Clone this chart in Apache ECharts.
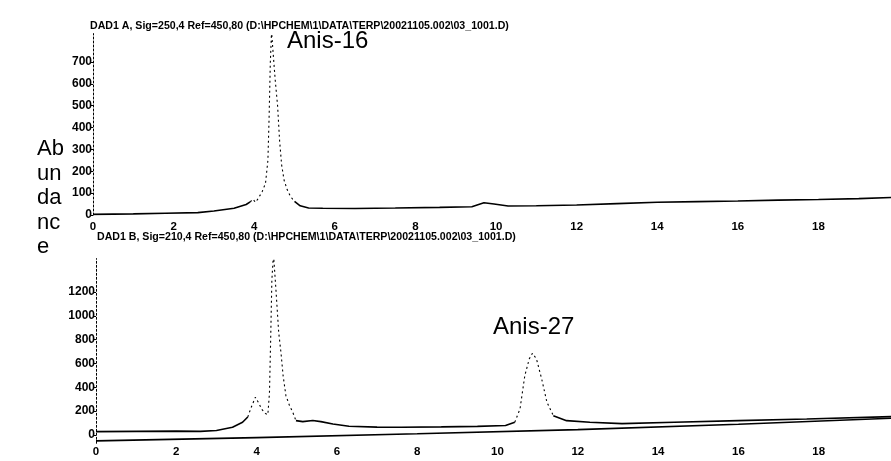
<!DOCTYPE html>
<html>
<head>
<meta charset="utf-8">
<script src="https://cdn.jsdelivr.net/npm/echarts@6/dist/echarts.min.js"></script>
<style>html,body{margin:0;padding:0;background:#fff;}#c{width:891px;height:461px;}</style>
</head>
<body>
<div id="c"></div>
<script>
// ---- Data (retention time in min, abundance) ----
var topTime  = [0, 1, 1.8, 2.6, 3.0, 3.5, 3.8, 3.9, 3.97, 4.03, 4.1, 4.2, 4.28, 4.34, 4.37, 4.40, 4.43, 4.47, 4.52, 4.58, 4.63, 4.68, 4.74, 4.82, 4.9, 5.0, 5.14, 5.35, 5.7, 6.5, 7.5, 8.6, 9.4, 9.7, 9.95, 10.3, 11, 12, 13, 14, 15, 16, 17, 18, 19, 19.8];
var topValue = [3, 5, 8, 11, 18, 31, 48, 60, 72, 58, 75, 108, 145, 250, 450, 700, 840, 740, 620, 500, 340, 230, 160, 115, 85, 62, 42, 32, 31, 30, 32, 35, 38, 56, 50, 41, 42, 46, 52, 58, 61, 64, 68, 71, 75, 80];

var bottomTime  = [0, 1, 2, 2.6, 3.0, 3.4, 3.65, 3.78, 3.86, 3.97, 4.05, 4.13, 4.22, 4.28, 4.32, 4.35, 4.38, 4.42, 4.48, 4.55, 4.61, 4.66, 4.73, 4.82, 4.9, 4.98, 5.15, 5.4, 5.6, 5.9, 6.3, 7.0, 7.6, 8.6, 9.5, 10.2, 10.43, 10.56, 10.68, 10.79, 10.87, 10.97, 11.1, 11.23, 11.39, 11.72, 12.3, 13.1, 14.4, 16, 17.7, 19.8];
var bottomValue = [28, 30, 32, 30, 38, 65, 107, 151, 227, 317, 270, 215, 180, 171, 350, 800, 1300, 1520, 1226, 862, 680, 498, 330, 246, 191, 120, 112, 122, 112, 92, 73, 66, 65, 68, 72, 80, 107, 218, 498, 638, 686, 638, 470, 275, 162, 120, 107, 95, 107, 120, 134, 154];

var baseTime  = [0, 4, 8, 12, 16, 19.8];
var baseValue = [-50, -22, 10, 45, 90, 140];

var xTicks = [0, 2, 4, 6, 8, 10, 12, 14, 16, 18];
var topYTicks = [0, 100, 200, 300, 400, 500, 600, 700];
var bottomYTicks = [0, 200, 400, 600, 800, 1000, 1200];

var topTitle = 'DAD1 A, Sig=250,4 Ref=450,80 (D:\\HPCHEM\\1\\DATA\\TERP\\20021105.002\\03_1001.D)';
var bottomTitle = 'DAD1 B, Sig=210,4 Ref=450,80 (D:\\HPCHEM\\1\\DATA\\TERP\\20021105.002\\03_1001.D)';
var peakTop = 'Anis-16';
var peakBottom = 'Anis-27';
var yName = ['Ab', 'un', 'da', 'nc', 'e'];

// steep parts drawn dotted (as in the scanned trace)
var topDotted = [[3.9, 5.0]];
var bottomDotted = [[3.78, 4.98], [10.43, 11.39]];

function inRange(t, ranges, strict) {
  for (var i = 0; i < ranges.length; i++) {
    var a = ranges[i][0], b = ranges[i][1];
    if (strict ? (t > a && t < b) : (t >= a && t <= b)) return true;
  }
  return false;
}
function solidData(ts, vs, ranges) {
  return ts.map(function (t, i) { return [t, inRange(t, ranges, true) ? null : vs[i]]; });
}
function dottedData(ts, vs, ranges) {
  return ts.map(function (t, i) { return [t, inRange(t, ranges, false) ? vs[i] : null]; });
}

var FONT = '"Liberation Sans", Arial, sans-serif';
var chart = echarts.init(document.getElementById('c'), null, {renderer: 'canvas'});
function plain(v) { return String(v); }

function xAxis(gi, margin) {
  return {
    type: 'value', gridIndex: gi, min: 0, max: 19.8,
    axisLine: {show: false}, splitLine: {show: false},
    axisTick: {show: false},
    axisLabel: {customValues: xTicks, formatter: plain, margin: margin, color: '#000', fontSize: 11.5, fontWeight: 'bold', fontFamily: FONT}
  };
}
function yAxis(gi, min, max, ticks) {
  return {
    type: 'value', gridIndex: gi, min: min, max: max,
    axisLine: {show: true, lineStyle: {color: '#000', width: 1, type: [2, 2]}},
    splitLine: {show: false},
    axisTick: {show: true, length: 3, customValues: ticks, lineStyle: {color: '#000'}},
    axisLabel: {customValues: ticks, formatter: plain, margin: 1, color: '#000', fontSize: 12, fontWeight: 'bold', fontFamily: FONT}
  };
}
function lineSeries(xi, data, dotted, width) {
  return {
    type: 'line', xAxisIndex: xi, yAxisIndex: xi, data: data,
    showSymbol: false, symbol: 'none', smooth: false, connectNulls: false, clip: true, silent: true,
    lineStyle: {color: '#000', width: width, type: dotted ? [2, 3] : 'solid'}
  };
}

var option = {
  backgroundColor: '#fff',
  animation: false,
  grid: [
    {left: 93, top: 33.6, width: 798, height: 181.4},
    {left: 96, top: 258.6, width: 795, height: 184.7}
  ],
  xAxis: [xAxis(0, 6), xAxis(1, 3)],
  yAxis: [yAxis(0, 0, 830, topYTicks), yAxis(1, -70, 1480, bottomYTicks)],
  series: [
    lineSeries(0, solidData(topTime, topValue, topDotted), false, 1.6),
    lineSeries(0, dottedData(topTime, topValue, topDotted), true, 1.1),
    lineSeries(1, solidData(bottomTime, bottomValue, bottomDotted), false, 1.6),
    lineSeries(1, dottedData(bottomTime, bottomValue, bottomDotted), true, 1.1),
    lineSeries(1, baseTime.map(function (t, i) { return [t, baseValue[i]]; }), false, 1.6)
  ],
  graphic: [
    {type: 'text', x: 90, y: 26, style: {text: topTitle, font: 'bold 10.6px ' + FONT, fill: '#000', verticalAlign: 'middle'}},
    {type: 'text', x: 97, y: 237, style: {text: bottomTitle, font: 'bold 10.6px ' + FONT, fill: '#000', verticalAlign: 'middle'}},
    {type: 'text', x: 287, y: 41, style: {text: peakTop, font: '24px ' + FONT, fill: '#000', verticalAlign: 'middle'}},
    {type: 'text', x: 493, y: 327, style: {text: peakBottom, font: '24px ' + FONT, fill: '#000', verticalAlign: 'middle'}}
  ].concat(yName.map(function (s, i) {
    return {type: 'text', x: 37, y: 149 + i * 24.5, style: {text: s, font: '22px ' + FONT, fill: '#000', verticalAlign: 'middle'}};
  }))
};
chart.setOption(option);
</script>
</body>
</html>
